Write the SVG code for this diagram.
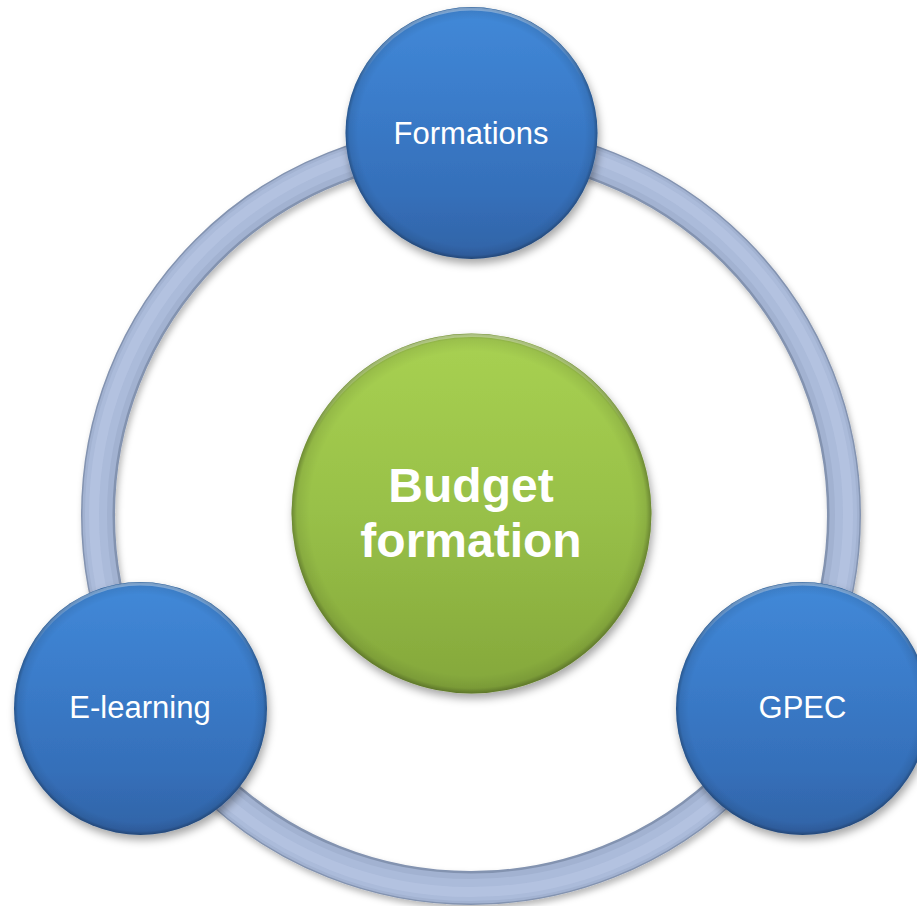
<svg xmlns="http://www.w3.org/2000/svg" width="917" height="906" viewBox="0 0 917 906">
  <defs>
    <style>
      .lbl { font-family: "Liberation Sans", Arial, sans-serif; fill: #ffffff; text-anchor: middle; }
      .small { font-size: 31px; }
      .big { font-size: 48px; font-weight: bold; }
      .blue { fill: url(#blueGrad); filter: url(#shadow); }
      .rim { fill: url(#rimGrad); }
      .hl { fill: none; stroke: url(#hlGrad); stroke-width: 3; }
    </style>
    <linearGradient id="blueGrad" x1="0" y1="0" x2="0" y2="1">
      <stop offset="0" stop-color="#4289d8"/>
      <stop offset="0.35" stop-color="#3b7dcb"/>
      <stop offset="0.75" stop-color="#356fb9"/>
      <stop offset="1" stop-color="#3163a6"/>
    </linearGradient>
    <linearGradient id="greenGrad" x1="0" y1="0" x2="0" y2="1">
      <stop offset="0" stop-color="#a8d152"/>
      <stop offset="0.5" stop-color="#98c048"/>
      <stop offset="1" stop-color="#84a73b"/>
    </linearGradient>
    <radialGradient id="rimGrad" cx="0.5" cy="0.5" r="0.5">
      <stop offset="0.9" stop-color="#000" stop-opacity="0"/>
      <stop offset="0.97" stop-color="#000" stop-opacity="0.08"/>
      <stop offset="1" stop-color="#000" stop-opacity="0.3"/>
    </radialGradient>
    <linearGradient id="hlGrad" x1="0" y1="0" x2="0" y2="1">
      <stop offset="0" stop-color="#ffffff" stop-opacity="0.35"/>
      <stop offset="0.3" stop-color="#ffffff" stop-opacity="0"/>
      <stop offset="1" stop-color="#ffffff" stop-opacity="0"/>
    </linearGradient>
    <filter id="shadow" x="-20%" y="-20%" width="140%" height="140%">
      <feDropShadow dx="2" dy="5" stdDeviation="4" flood-color="#000" flood-opacity="0.35"/>
    </filter>
    <filter id="ringShadow" x="-10%" y="-10%" width="120%" height="120%">
      <feDropShadow dx="2" dy="4" stdDeviation="3" flood-color="#000" flood-opacity="0.28"/>
    </filter>
  </defs>

  <rect width="917" height="906" fill="#ffffff"/>

  <g id="connectors">
    <g filter="url(#ringShadow)">
      <circle cx="471" cy="515" r="373" fill="none" stroke="#8393b0" stroke-width="34"/>
      <circle cx="471" cy="515" r="373.5" fill="none" stroke="#a2b2d1" stroke-width="30"/>
      <circle cx="471" cy="515" r="375" fill="none" stroke="#abbbda" stroke-width="22"/>
      <circle cx="471" cy="515" r="377" fill="none" stroke="#b6c4e3" stroke-width="10" opacity="0.7"/>
    </g>
  </g>

  <g id="node-budget">
    <circle cx="471.5" cy="513.5" r="180" fill="url(#greenGrad)" filter="url(#shadow)"/>
    <circle cx="471.5" cy="513.5" r="180" class="rim"/>
    <circle cx="471.5" cy="513.5" r="178" class="hl"/>
    <text class="lbl big" x="471" y="502">Budget</text>
    <text class="lbl big" x="471" y="557">formation</text>
  </g>

  <g id="node-formations">
    <circle cx="471.5" cy="133" r="126" class="blue"/>
    <circle cx="471.5" cy="133" r="126" class="rim"/>
    <circle cx="471.5" cy="133" r="124" class="hl"/>
    <text class="lbl small" x="471" y="144">Formations</text>
  </g>

  <g id="node-elearning">
    <circle cx="140.5" cy="708.5" r="126.5" class="blue"/>
    <circle cx="140.5" cy="708.5" r="126.5" class="rim"/>
    <circle cx="140.5" cy="708.5" r="124.5" class="hl"/>
    <text class="lbl small" x="140" y="718">E-learning</text>
  </g>

  <g id="node-gpec">
    <circle cx="802.5" cy="708.5" r="126.5" class="blue"/>
    <circle cx="802.5" cy="708.5" r="126.5" class="rim"/>
    <circle cx="802.5" cy="708.5" r="124.5" class="hl"/>
    <text class="lbl small" x="802.5" y="718">GPEC</text>
  </g>
</svg>
